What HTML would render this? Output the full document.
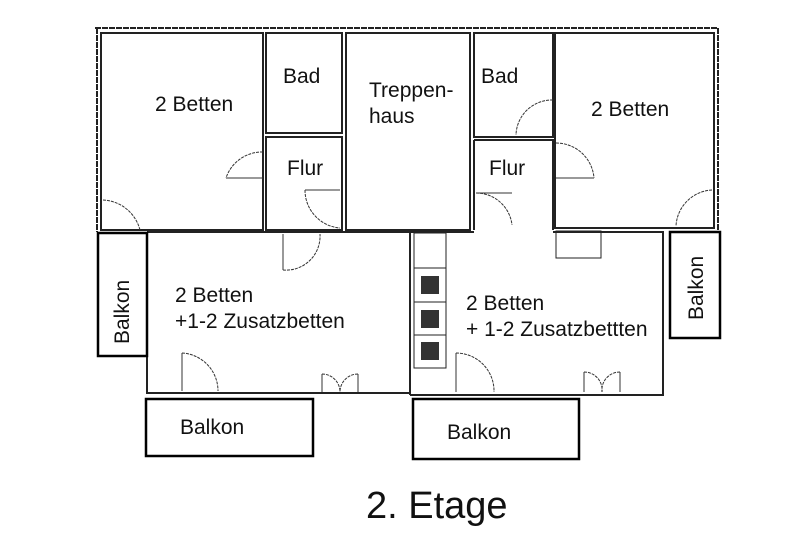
<!DOCTYPE html>
<html><head><meta charset="utf-8"><style>
html,body{margin:0;padding:0;background:#fff;}
svg{display:block}
text{font-family:"Liberation Sans",Arial,sans-serif;fill:#111;}
</style></head><body>
<svg width="800" height="537" viewBox="0 0 800 537" xmlns="http://www.w3.org/2000/svg">
<g fill="none" stroke="#222" stroke-width="2">
<line x1="95" y1="28" x2="718" y2="28" stroke-dasharray="6 1"/>
<line x1="97" y1="28" x2="97" y2="232" stroke-dasharray="6 1"/>
<line x1="718" y1="28" x2="718" y2="232" stroke-dasharray="6 1"/>
<rect x="101" y="33" width="162" height="197"/>
<rect x="266" y="33" width="76" height="100"/>
<rect x="266" y="137" width="76" height="93"/>
<rect x="346" y="33" width="124" height="197"/>
<rect x="474" y="33" width="79" height="104"/>
<polyline points="474,140 553,140 553,230"/>
<line x1="474" y1="140" x2="474" y2="230"/>
<rect x="555" y="33" width="159" height="195"/>
<polyline points="147,232 410,232 410,393 147,393 147,232"/>
<polyline points="410,232 474,232"/>
<polyline points="553,232 663,232 663,395 410,395"/>
<line x1="410" y1="232" x2="410" y2="395"/>
<rect x="414" y="233" width="32" height="35" stroke-width="1"/>
<rect x="414" y="268" width="32" height="34" stroke-width="1"/>
<rect x="414" y="302" width="32" height="33" stroke-width="1"/>
<rect x="414" y="335" width="32" height="33" stroke-width="1"/>
<rect x="556" y="231" width="45" height="27" stroke-width="1"/>
</g>
<g fill="#333"><rect x="421" y="276" width="18" height="18"/><rect x="421" y="310" width="18" height="18"/><rect x="421" y="342" width="18" height="18"/></g>
<g fill="none" stroke="#333" stroke-width="1" stroke-dasharray="3 1">
<path d="M103,200 A40,40 0 0 1 140,230"/>
<path d="M263,152 A38,38 0 0 0 226,178"/>
<line x1="226" y1="178" x2="263" y2="178" stroke-dasharray="none"/>
<path d="M305,190 A38,38 0 0 0 340,228"/>
<line x1="305" y1="190" x2="340" y2="190" stroke-dasharray="none"/>
<path d="M283,270 A34,34 0 0 0 320,234"/>
<line x1="283" y1="234" x2="283" y2="270" stroke-dasharray="none"/>
<path d="M553,100 A36,36 0 0 0 516,135"/>
<path d="M476,193 A36,36 0 0 1 512,225"/>
<line x1="476" y1="193" x2="512" y2="193" stroke-dasharray="none"/>
<path d="M556,143 A38,38 0 0 1 594,178"/>
<line x1="556" y1="178" x2="594" y2="178" stroke-dasharray="none"/>
<path d="M712,190 A38,38 0 0 0 676,226"/>
<path d="M182,353 A38,38 0 0 1 218,391"/>
<line x1="182" y1="353" x2="182" y2="391" stroke-dasharray="none"/>
<path d="M322,374 A18,18 0 0 1 340,392"/>
<path d="M358,374 A18,18 0 0 0 340,392"/>
<line x1="322" y1="374" x2="322" y2="392" stroke-dasharray="none"/>
<line x1="358" y1="374" x2="358" y2="392" stroke-dasharray="none"/>
<path d="M456,353 A38,38 0 0 1 494,392"/>
<line x1="456" y1="353" x2="456" y2="392" stroke-dasharray="none"/>
<path d="M584,372 A18,18 0 0 1 602,392"/>
<path d="M620,372 A18,18 0 0 0 602,392"/>
<line x1="584" y1="372" x2="584" y2="392" stroke-dasharray="none"/>
<line x1="620" y1="372" x2="620" y2="392" stroke-dasharray="none"/>
</g>
<g fill="none" stroke="#000" stroke-width="2.5">
<rect x="98" y="233" width="49" height="123"/>
<rect x="670" y="232" width="50" height="106"/>
<rect x="146" y="399" width="167" height="57"/>
<rect x="413" y="399" width="166" height="60"/>
</g>
<g font-size="21">
<text x="155" y="111">2 Betten</text>
<text x="283" y="83">Bad</text>
<text x="369" y="97">Treppen-</text>
<text x="369" y="123">haus</text>
<text x="481" y="83">Bad</text>
<text x="287" y="175">Flur</text>
<text x="489" y="175">Flur</text>
<text x="591" y="116">2 Betten</text>
<text x="175" y="302">2 Betten</text>
<text x="175" y="328">+1-2 Zusatzbetten</text>
<text x="466" y="310">2 Betten</text>
<text x="466" y="336">+ 1-2 Zusatzbettten</text>
<text x="180" y="434">Balkon</text>
<text x="447" y="439">Balkon</text>
<text transform="translate(129,344) rotate(-90)">Balkon</text>
<text transform="translate(703,320) rotate(-90)">Balkon</text>
</g>
<text x="366" y="518" font-size="38">2. Etage</text>
</svg>
</body></html>
